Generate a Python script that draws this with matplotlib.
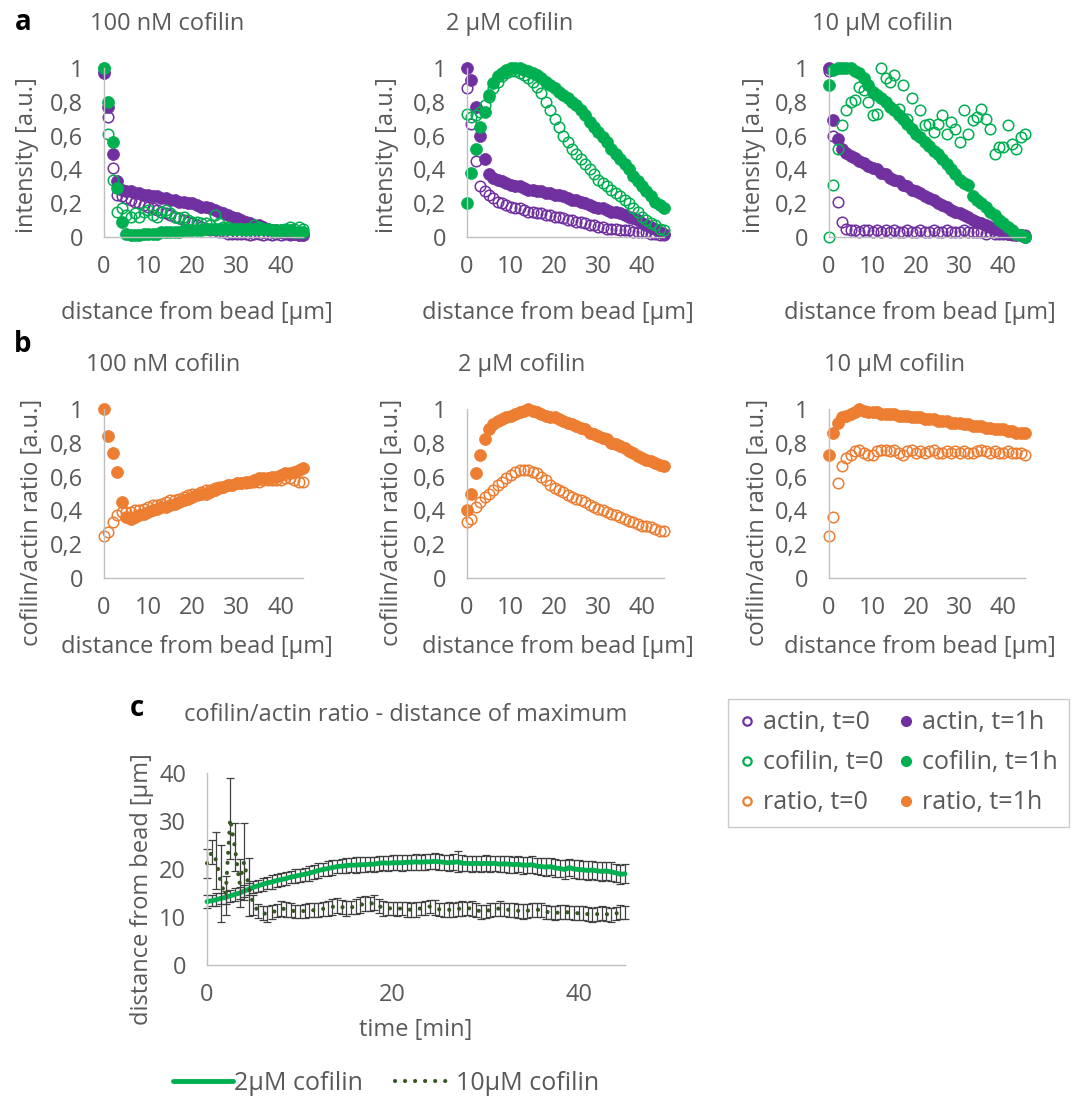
import numpy as np
import matplotlib
matplotlib.use('Agg')
import matplotlib.pyplot as plt
from matplotlib.lines import Line2D

plt.rcParams['font.family'] = ['Open Sans', 'DejaVu Sans']

# ---------------- data ----------------
distance = list(range(46))  # µm

# panel a: 100 nM cofilin
a100_actin_t0 = [0.98, 0.71, 0.41, 0.25, 0.24, 0.23, 0.22, 0.21, 0.20, 0.19, 0.18, 0.17, 0.16, 0.15, 0.14, 0.13,
                 0.12, 0.11, 0.10, 0.09, 0.08, 0.07, 0.06, 0.05, 0.04, 0.04, 0.03, 0.03, 0.02, 0.02, 0.02, 0.02,
                 0.02, 0.01, 0.02, 0.02, 0.01, 0.02, 0.01, 0.02, 0.01, 0.02, 0.01, 0.02, 0.01, 0.01]
a100_actin_t1 = [0.97, 0.77, 0.49, 0.33, 0.28, 0.27, 0.27, 0.26, 0.26, 0.25, 0.25, 0.24, 0.24, 0.23, 0.23, 0.22,
                 0.22, 0.21, 0.21, 0.20, 0.20, 0.19, 0.18, 0.18, 0.17, 0.16, 0.15, 0.14, 0.13, 0.12, 0.11, 0.10,
                 0.09, 0.08, 0.07, 0.07, 0.06, 0.05, 0.04, 0.04, 0.03, 0.03, 0.02, 0.02, 0.01, 0.01]
a100_cof_t0 = [1.00, 0.61, 0.34, 0.15, 0.17, 0.13, 0.12, 0.14, 0.12, 0.15, 0.16, 0.13, 0.12, 0.15, 0.16, 0.14,
               0.12, 0.11, 0.12, 0.10, 0.09, 0.09, 0.08, 0.08, 0.07, 0.13, 0.08, 0.06, 0.06, 0.05, 0.05, 0.05,
               0.04, 0.05, 0.07, 0.06, 0.05, 0.05, 0.04, 0.03, 0.04, 0.05, 0.06, 0.05, 0.06, 0.05]
a100_cof_t1 = [1.00, 0.80, 0.56, 0.29, 0.09, 0.02, 0.01, 0.01, 0.01, 0.02, 0.02, 0.02, 0.02, 0.03, 0.03, 0.03,
               0.03, 0.03, 0.04, 0.04, 0.04, 0.04, 0.04, 0.05, 0.05, 0.05, 0.05, 0.05, 0.05, 0.05, 0.05, 0.05,
               0.05, 0.05, 0.05, 0.05, 0.05, 0.05, 0.04, 0.04, 0.04, 0.04, 0.04, 0.03, 0.03, 0.03]

# panel a: 2 µM cofilin
a2_actin_t0 = [0.88, 0.67, 0.45, 0.30, 0.27, 0.25, 0.23, 0.21, 0.20, 0.19, 0.18, 0.17, 0.17, 0.16, 0.15, 0.15,
               0.14, 0.14, 0.13, 0.13, 0.12, 0.12, 0.11, 0.10, 0.10, 0.09, 0.09, 0.08, 0.07, 0.07, 0.06, 0.06,
               0.05, 0.05, 0.05, 0.04, 0.04, 0.04, 0.03, 0.03, 0.03, 0.03, 0.02, 0.02, 0.01, 0.01]
a2_actin_t1 = [1.00, 0.93, 0.77, 0.60, 0.46, 0.37, 0.35, 0.34, 0.33, 0.32, 0.31, 0.30, 0.30, 0.29, 0.28, 0.28,
               0.27, 0.27, 0.26, 0.26, 0.25, 0.25, 0.24, 0.23, 0.22, 0.22, 0.21, 0.20, 0.19, 0.18, 0.17, 0.17,
               0.16, 0.15, 0.15, 0.14, 0.13, 0.12, 0.11, 0.10, 0.08, 0.07, 0.06, 0.05, 0.03, 0.02]
a2_cof_t0 = [0.73, 0.71, 0.72, 0.74, 0.78, 0.83, 0.88, 0.92, 0.95, 0.97, 0.98, 0.98, 0.97, 0.96, 0.94, 0.92,
             0.89, 0.85, 0.80, 0.75, 0.70, 0.65, 0.60, 0.56, 0.52, 0.49, 0.46, 0.43, 0.40, 0.37, 0.34, 0.32,
             0.30, 0.28, 0.26, 0.24, 0.22, 0.20, 0.17, 0.15, 0.12, 0.10, 0.08, 0.07, 0.05, 0.04]
a2_cof_t1 = [0.20, 0.38, 0.52, 0.65, 0.74, 0.84, 0.91, 0.95, 0.97, 0.99, 1.00, 1.00, 1.00, 0.99, 0.98, 0.97,
             0.96, 0.94, 0.92, 0.90, 0.88, 0.86, 0.84, 0.82, 0.80, 0.78, 0.75, 0.72, 0.68, 0.65, 0.62, 0.59,
             0.56, 0.52, 0.49, 0.46, 0.43, 0.40, 0.36, 0.33, 0.30, 0.27, 0.24, 0.21, 0.19, 0.17]

# panel a: 10 µM cofilin
a10_actin_t0 = [0.98, 0.60, 0.21, 0.09, 0.05, 0.04, 0.04, 0.03, 0.04, 0.04, 0.03, 0.04, 0.03, 0.04, 0.03, 0.04,
                0.03, 0.03, 0.04, 0.03, 0.03, 0.04, 0.03, 0.03, 0.04, 0.03, 0.03, 0.04, 0.03, 0.03, 0.03, 0.04,
                0.03, 0.03, 0.03, 0.03, 0.02, 0.03, 0.02, 0.02, 0.02, 0.02, 0.01, 0.02, 0.01, 0.01]
a10_actin_t1 = [1.00, 0.69, 0.58, 0.52, 0.50, 0.48, 0.47, 0.45, 0.44, 0.42, 0.41, 0.40, 0.38, 0.37, 0.35, 0.34,
                0.33, 0.31, 0.30, 0.28, 0.27, 0.26, 0.24, 0.23, 0.22, 0.20, 0.19, 0.18, 0.16, 0.15, 0.14, 0.13,
                0.12, 0.10, 0.09, 0.08, 0.07, 0.06, 0.05, 0.04, 0.03, 0.02, 0.02, 0.01, 0.01, 0.00]
a10_cof_t0 = [0.00, 0.31, 0.52, 0.66, 0.75, 0.80, 0.81, 0.89, 0.87, 0.80, 0.72, 0.73, 1.00, 0.94, 0.92, 0.96,
              0.76, 0.90, 0.70, 0.82, 0.61, 0.75, 0.66, 0.67, 0.62, 0.67, 0.72, 0.61, 0.68, 0.64, 0.56, 0.75,
              0.61, 0.69, 0.71, 0.76, 0.70, 0.64, 0.49, 0.53, 0.53, 0.66, 0.55, 0.52, 0.59, 0.61]
a10_cof_t1 = [0.90, 0.99, 1.00, 1.00, 1.00, 1.00, 0.98, 0.97, 0.94, 0.90, 0.86, 0.84, 0.82, 0.80, 0.77, 0.75,
              0.72, 0.70, 0.67, 0.64, 0.61, 0.59, 0.56, 0.54, 0.51, 0.49, 0.46, 0.43, 0.40, 0.37, 0.34, 0.32,
              0.31, 0.24, 0.22, 0.20, 0.18, 0.15, 0.13, 0.10, 0.08, 0.06, 0.04, 0.02, 0.01, 0.00]

# panel b: cofilin/actin ratio
b100_t0 = [0.25, 0.27, 0.33, 0.37, 0.39, 0.39, 0.39, 0.40, 0.40, 0.41, 0.42, 0.43, 0.43, 0.44, 0.45, 0.46,
           0.46, 0.47, 0.48, 0.49, 0.50, 0.50, 0.51, 0.52, 0.52, 0.53, 0.54, 0.54, 0.55, 0.55, 0.56, 0.56,
           0.56, 0.57, 0.57, 0.57, 0.58, 0.58, 0.58, 0.58, 0.58, 0.59, 0.59, 0.58, 0.57, 0.57]
b100_t1 = [1.00, 0.84, 0.74, 0.63, 0.45, 0.36, 0.35, 0.36, 0.37, 0.38, 0.39, 0.40, 0.41, 0.42, 0.42, 0.43,
           0.44, 0.45, 0.46, 0.47, 0.48, 0.49, 0.50, 0.50, 0.51, 0.52, 0.53, 0.54, 0.55, 0.55, 0.56, 0.56,
           0.57, 0.57, 0.58, 0.59, 0.59, 0.59, 0.60, 0.60, 0.61, 0.62, 0.62, 0.63, 0.64, 0.65]
b2_t0 = [0.33, 0.35, 0.42, 0.45, 0.48, 0.50, 0.52, 0.55, 0.57, 0.59, 0.61, 0.63, 0.64, 0.64, 0.64, 0.63,
         0.62, 0.60, 0.58, 0.55, 0.53, 0.52, 0.51, 0.49, 0.48, 0.47, 0.46, 0.45, 0.43, 0.42, 0.41, 0.40,
         0.39, 0.38, 0.37, 0.36, 0.35, 0.34, 0.33, 0.32, 0.31, 0.31, 0.30, 0.29, 0.28, 0.28]
b2_t1 = [0.40, 0.50, 0.62, 0.73, 0.82, 0.88, 0.91, 0.93, 0.94, 0.95, 0.96, 0.97, 0.98, 0.99, 1.00, 0.99,
         0.98, 0.97, 0.96, 0.95, 0.95, 0.94, 0.93, 0.92, 0.91, 0.90, 0.89, 0.88, 0.86, 0.85, 0.84, 0.83,
         0.82, 0.80, 0.79, 0.78, 0.77, 0.75, 0.74, 0.72, 0.71, 0.70, 0.69, 0.68, 0.67, 0.66]
b10_t0 = [0.25, 0.36, 0.56, 0.66, 0.71, 0.73, 0.75, 0.76, 0.74, 0.73, 0.73, 0.75, 0.76, 0.76, 0.75, 0.76,
          0.74, 0.73, 0.75, 0.76, 0.74, 0.75, 0.74, 0.75, 0.76, 0.74, 0.74, 0.75, 0.74, 0.75, 0.74, 0.75,
          0.74, 0.74, 0.75, 0.76, 0.75, 0.74, 0.75, 0.74, 0.74, 0.75, 0.74, 0.74, 0.74, 0.73]
b10_t1 = [0.73, 0.86, 0.92, 0.95, 0.96, 0.97, 0.98, 1.00, 0.99, 0.98, 0.98, 0.98, 0.97, 0.97, 0.97, 0.97,
          0.96, 0.96, 0.96, 0.95, 0.95, 0.95, 0.94, 0.94, 0.94, 0.93, 0.93, 0.93, 0.92, 0.92, 0.92, 0.91,
          0.91, 0.90, 0.90, 0.90, 0.89, 0.89, 0.88, 0.88, 0.88, 0.87, 0.87, 0.86, 0.86, 0.86]

# panel c: distance of maximum vs time
time_min = np.arange(0, 45.5, 0.5)
c2_mean = [13.2, 13.4, 13.6, 13.9, 14.1, 14.4, 14.7, 15.0, 15.4, 15.8,
           16.2, 16.5, 16.8, 17.1, 17.3, 17.6, 17.8, 18.0, 18.3, 18.5,
           18.7, 18.9, 19.1, 19.4, 19.7, 19.9, 20.1, 20.3, 20.5, 20.6,
           20.7, 20.8, 20.8, 20.9, 20.9, 21.0, 21.0, 21.2, 21.3, 21.2,
           21.3, 21.3, 21.3, 21.4, 21.4, 21.5, 21.4, 21.5, 21.5, 21.6,
           21.5, 21.4, 21.3, 21.4, 21.5, 21.2, 21.2, 21.1, 21.2, 21.1,
           21.2, 21.1, 21.2, 21.0, 21.1, 21.0, 20.9, 21.0, 20.8, 20.8,
           20.9, 20.6, 20.5, 20.4, 20.5, 20.2, 20.1, 19.9, 20.3, 20.0,
           19.9, 19.8, 19.7, 19.8, 19.6, 19.5, 19.6, 19.4, 19.2, 18.9,
           19.0]
c2_err = [1.3, 1.2, 1.3, 1.2, 1.3, 1.2, 1.3, 1.3, 1.2, 1.3,
          1.3, 1.3, 1.4, 1.3, 1.4, 1.3, 1.4, 1.4, 1.3, 1.4,
          1.4, 1.4, 1.5, 1.4, 1.5, 1.4, 1.5, 1.5, 1.4, 1.5,
          1.5, 1.5, 1.6, 1.5, 1.6, 1.5, 1.6, 1.6, 1.5, 1.6,
          1.6, 1.6, 1.7, 1.6, 1.6, 1.7, 1.6, 1.7, 1.6, 1.7,
          1.7, 1.6, 1.7, 1.7, 2.2, 1.7, 1.6, 1.7, 1.6, 1.7,
          1.7, 1.7, 1.6, 1.7, 1.7, 1.8, 1.7, 1.7, 1.8, 1.7,
          1.8, 1.7, 1.8, 1.8, 1.7, 1.8, 1.8, 1.9, 1.8, 1.8,
          1.9, 1.8, 1.9, 1.8, 1.9, 1.9, 1.9, 2.0, 1.9, 2.0,
          2.0]
c10_mean = [21.2, 23.5, 21.8, 17.0, 14.5, 30.5, 24.5, 17.0, 21.5, 16.3,
            12.5, 11.3, 10.8, 10.6, 11.0, 11.3, 11.8, 11.6, 11.4, 11.2,
            11.1, 11.3, 11.5, 11.4, 11.5, 11.7, 11.8, 12.1, 12.4, 12.1,
            11.8, 12.0, 12.2, 12.5, 12.8, 12.7, 13.0, 12.3, 11.8, 11.8,
            11.8, 11.7, 11.8, 11.6, 11.5, 11.6, 11.8, 11.9, 12.2, 12.0,
            11.6, 11.5, 11.5, 11.5, 11.7, 11.8, 11.8, 11.8, 11.5, 11.1,
            11.2, 11.5, 11.6, 11.8, 11.6, 11.5, 11.5, 11.3, 11.1, 11.3,
            11.5, 11.5, 11.5, 11.1, 10.9, 10.8, 11.0, 11.1, 10.9, 10.8,
            10.8, 10.8, 10.6, 10.4, 10.6, 10.8, 10.6, 10.4, 10.7, 11.1,
            10.9]
c10_err = [3.0, 2.5, 6.0, 8.0, 4.0, 8.5, 5.0, 5.0, 8.0, 6.0,
           2.0, 1.5, 1.5, 1.6, 1.5, 1.4, 1.5, 1.6, 1.5, 1.4,
           1.4, 1.5, 1.4, 1.5, 1.5, 1.4, 1.5, 1.6, 1.5, 1.4,
           1.5, 1.4, 1.5, 1.6, 1.5, 1.4, 1.5, 1.4, 1.5, 1.4,
           1.4, 1.5, 1.4, 1.5, 1.4, 1.5, 1.4, 1.5, 1.4, 1.5,
           1.4, 1.5, 1.6, 1.5, 1.4, 1.5, 1.4, 1.5, 1.4, 1.5,
           1.4, 1.5, 1.4, 1.5, 1.4, 1.5, 1.4, 1.5, 1.6, 1.5,
           1.4, 1.5, 1.4, 1.5, 1.4, 1.5, 1.4, 1.5, 1.4, 1.5,
           1.4, 1.5, 1.4, 1.5, 1.4, 1.5, 1.4, 1.5, 1.4, 1.5,
           1.4]

ytick_vals = [0, 0.2, 0.4, 0.6, 0.8, 1.0]
ytick_labels = ['0', '0,2', '0,4', '0,6', '0,8', '1']
xtick_vals = [0, 10, 20, 30, 40]
concentrations = ['100 nM cofilin', '2 µM cofilin', '10 µM cofilin']

# ---------------- style ----------------
PURPLE = '#7030A0'
GREEN = '#00B050'
ORANGE = '#ED7D31'
DKGREEN = '#375623'
TXT = '#595959'
SPINE = '#BFBFBF'
FS = 17

W, H = 1072, 1097
fig = plt.figure(figsize=(W / 100, H / 100), dpi=100)


def ax_px(l, t, r, b):
    return fig.add_axes([l / W, 1 - b / H, (r - l) / W, (b - t) / H])


def style(ax, xlim, ylim, xticks, yticks, yticklabels=None):
    ax.set_xlim(*xlim)
    ax.set_ylim(*ylim)
    ax.set_xticks(xticks)
    ax.set_yticks(yticks)
    if yticklabels is not None:
        ax.set_yticklabels(yticklabels)
    for s in ['top', 'right']:
        ax.spines[s].set_visible(False)
    for s in ['left', 'bottom']:
        ax.spines[s].set_color(SPINE)
        ax.spines[s].set_linewidth(1.0)
    ax.tick_params(axis='both', length=0, labelsize=FS, labelcolor=TXT)
    ax.tick_params(axis='y', pad=15)
    ax.tick_params(axis='x', pad=13)
    ax.set_facecolor('none')


def ftext(x, y, s, **kw):
    kw.setdefault('color', TXT)
    kw.setdefault('fontsize', FS)
    kw.setdefault('ha', 'center')
    kw.setdefault('va', 'center')
    fig.text(x / W, 1 - y / H, s, **kw)


def open_pts(ax, x, y, c):
    ax.plot(x, y, 'o', ls='none', ms=7.6, mfc='none', mec=c, mew=1.1, clip_on=False)


def fill_pts(ax, x, y, c):
    ax.plot(x, y, 'o', ls='none', ms=8.6, mfc=c, mec=c, mew=0.5, clip_on=False)


# ---------------- row a ----------------
a_left = [104, 467, 829]
a_right = [303, 664, 1025]
a_data = [(a100_actin_t0, a100_actin_t1, a100_cof_t0, a100_cof_t1),
          (a2_actin_t0, a2_actin_t1, a2_cof_t0, a2_cof_t1),
          (a10_actin_t0, a10_actin_t1, a10_cof_t0, a10_cof_t1)]
a_title_x = [167, 510, 882]
a_xlabel_x = [197, 558, 920]
a_ylabel_x = [27, 387, 754]
for i in range(3):
    ax = ax_px(a_left[i], 68, a_right[i], 237)
    style(ax, (0, 45), (0, 1), xtick_vals, ytick_vals, ytick_labels)
    act0, act1, cof0, cof1 = a_data[i]
    open_pts(ax, distance, act0, PURPLE)
    fill_pts(ax, distance, act1, PURPLE)
    open_pts(ax, distance, cof0, GREEN)
    fill_pts(ax, distance, cof1, GREEN)
    ftext(a_title_x[i], 24, concentrations[i])
    ftext(a_xlabel_x[i], 313, 'distance from bead [µm]')
    ftext(a_ylabel_x[i], 155, 'intensity [a.u.]', rotation=90)

# ---------------- row b ----------------
b_data = [(b100_t0, b100_t1), (b2_t0, b2_t1), (b10_t0, b10_t1)]
b_title_x = [163, 522, 894]
b_ylabel_x = [32, 392, 758]
for i in range(3):
    ax = ax_px(a_left[i], 409, a_right[i], 578)
    style(ax, (0, 45), (0, 1), xtick_vals, ytick_vals, ytick_labels)
    r0, r1 = b_data[i]
    open_pts(ax, distance, r0, ORANGE)
    fill_pts(ax, distance, r1, ORANGE)
    ftext(b_title_x[i], 365, concentrations[i])
    ftext(a_xlabel_x[i], 647, 'distance from bead [µm]')
    ftext(b_ylabel_x[i], 522, 'cofilin/actin ratio [a.u.]', rotation=90)

# ---------------- row c ----------------
axc = ax_px(207, 773, 625, 965)
style(axc, (0, 45), (0, 40), [0, 20, 40], [0, 10, 20, 30, 40])
axc.errorbar(time_min, c2_mean, yerr=c2_err, fmt='none', ecolor='#404040',
             elinewidth=0.9, capsize=3, capthick=0.9, clip_on=False)
line2, = axc.plot(time_min, c2_mean, color=GREEN, lw=3.5, solid_capstyle='round',
                  clip_on=False, label='2µM cofilin')
axc.errorbar(time_min, c10_mean, yerr=c10_err, fmt='none', ecolor='#404040',
             elinewidth=0.9, capsize=3, capthick=0.9, clip_on=False)
line10, = axc.plot(time_min, c10_mean, color=DKGREEN, lw=3.0, ls=(0, (0.01, 2.4)),
                   dash_capstyle='round', clip_on=False, label='10µM cofilin')
ftext(406, 715, 'cofilin/actin ratio - distance of maximum')
ftext(416, 1030, 'time [min]')
ftext(142, 889, 'distance from bead [µm]', rotation=90)

leg_c = axc.legend(handles=[line2, line10], loc='center',
                   bbox_to_anchor=(386 / W, 1 - 1083 / H), bbox_transform=fig.transFigure,
                   ncol=2, frameon=False, fontsize=18, handlelength=2.4,
                   handletextpad=0.05, columnspacing=1.3, labelcolor=TXT)

# ---------------- marker legend ----------------
handles = [
    Line2D([], [], ls='none', marker='o', ms=6, mfc='none', mec=PURPLE, mew=1.6),
    Line2D([], [], ls='none', marker='o', ms=6, mfc='none', mec=GREEN, mew=1.6),
    Line2D([], [], ls='none', marker='o', ms=6, mfc='none', mec=ORANGE, mew=1.6),
    Line2D([], [], ls='none', marker='o', ms=7, mfc=PURPLE, mec=PURPLE),
    Line2D([], [], ls='none', marker='o', ms=7, mfc=GREEN, mec=GREEN),
    Line2D([], [], ls='none', marker='o', ms=7, mfc=ORANGE, mec=ORANGE),
]
labels = ['actin, t=0', 'cofilin, t=0', 'ratio, t=0',
          'actin, t=1h', 'cofilin, t=1h', 'ratio, t=1h']
leg = fig.legend(handles, labels, loc='upper left', bbox_to_anchor=(728 / W, 1 - 699 / H),
                 ncol=2, fontsize=18, frameon=True, fancybox=False, edgecolor=SPINE,
                 borderaxespad=0, borderpad=0.45, handlelength=0.6, handletextpad=0.35,
                 columnspacing=0.6, labelspacing=0.6, labelcolor=TXT)
leg.get_frame().set_linewidth(1.0)

# panel letters
ftext(23, 22, 'a', color='black', fontsize=20, fontweight='bold')
ftext(23, 345, 'b', color='black', fontsize=20, fontweight='bold')
ftext(137, 708, 'c', color='black', fontsize=20, fontweight='bold')

fig.savefig('out.png', dpi=100, facecolor='white')
